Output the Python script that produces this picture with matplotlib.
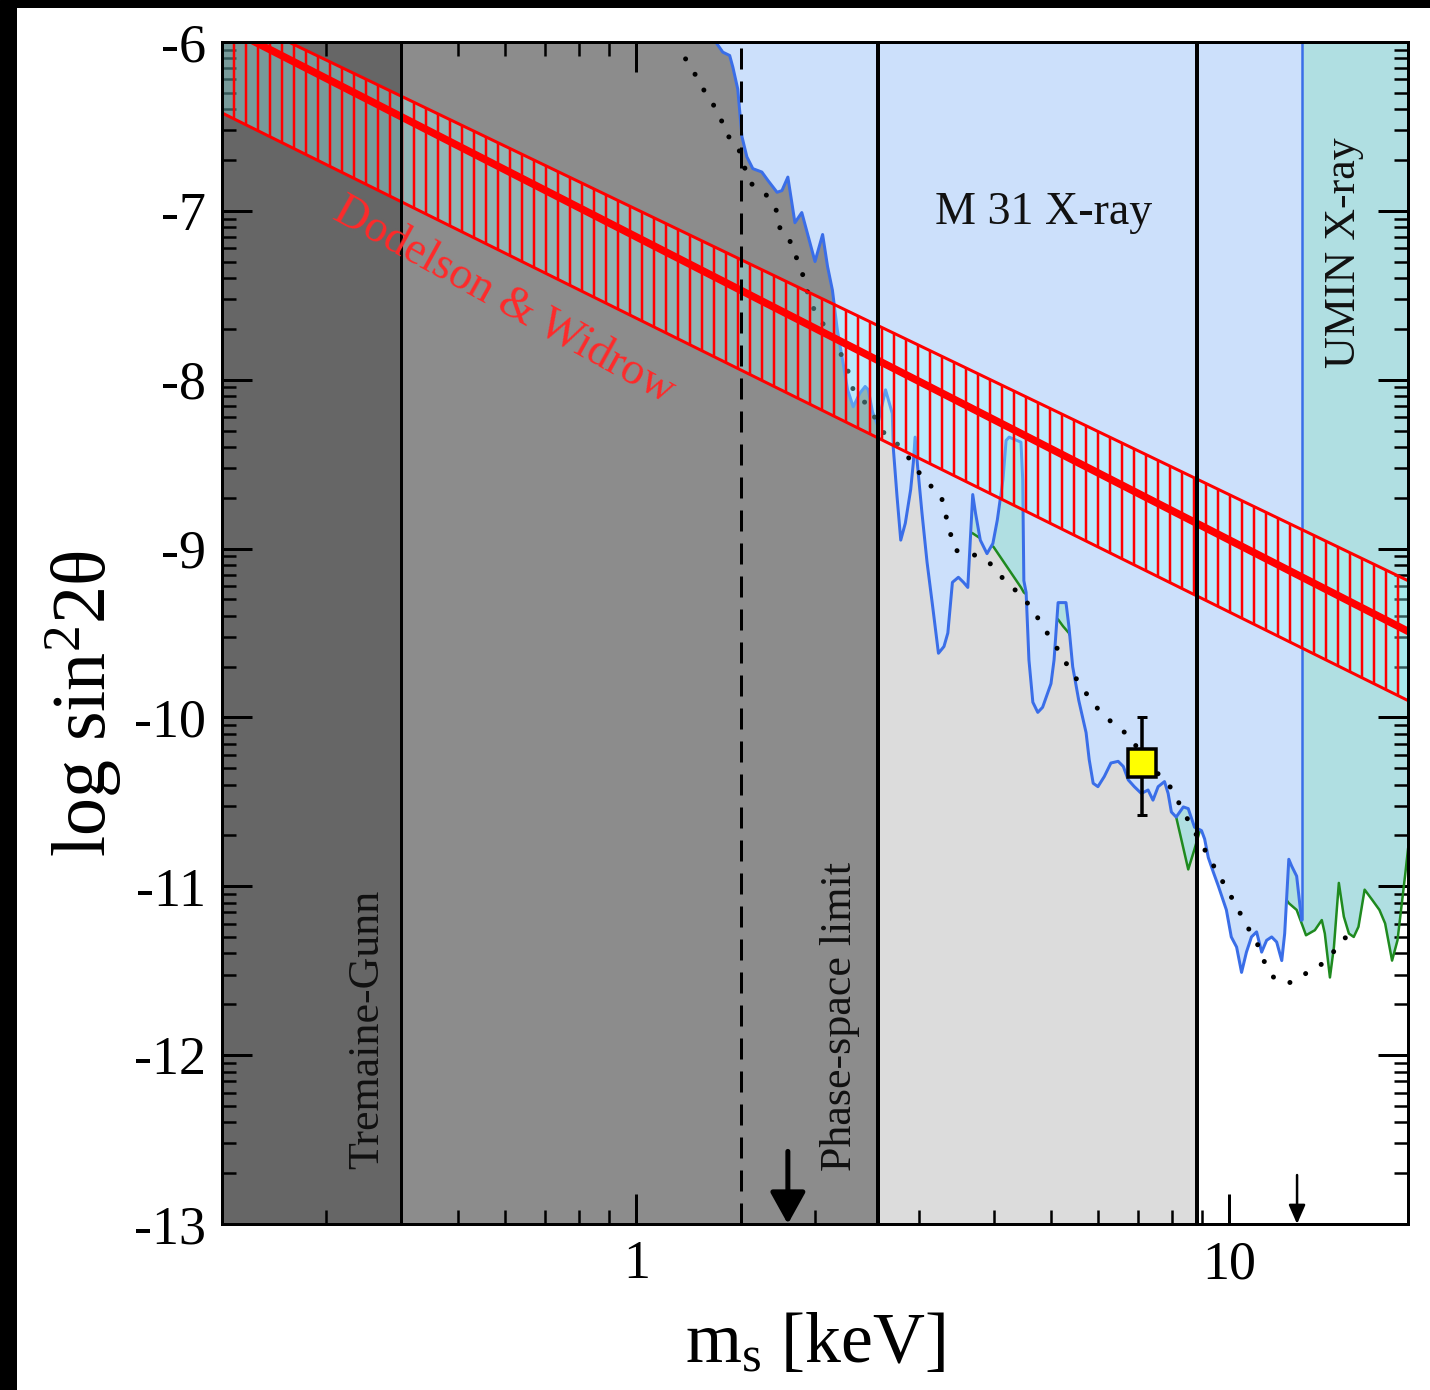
import numpy as np
import matplotlib
matplotlib.use("Agg")
import matplotlib.pyplot as plt
from matplotlib.ticker import FuncFormatter, LogLocator, NullFormatter, FixedLocator
from matplotlib.patches import Rectangle

# m_s in keV, values as log10(sin^2 2theta)
blue_m = [1.36, 1.398, 1.436, 1.454, 1.482, 1.506, 1.535, 1.571, 1.627, 1.666, 1.726, 1.759,
          1.80, 1.85, 1.90, 2.00, 2.06, 2.10, 2.14, 2.18, 2.22, 2.27, 2.32, 2.38, 2.43, 2.46,
          2.50, 2.55, 2.63, 2.70, 2.71, 2.75, 2.79, 2.84, 2.90, 2.93, 2.95, 2.98, 3.03, 3.09,
          3.16, 3.23, 3.30, 3.35, 3.41, 3.49, 3.56, 3.62, 3.69, 3.73, 3.80, 3.90, 3.99, 4.06,
          4.15, 4.20, 4.25, 4.45, 4.48, 4.50, 4.54, 4.59, 4.66, 4.75, 4.84, 5.00, 5.06, 5.14,
          5.24, 5.30, 5.36, 5.44, 5.57, 5.73, 5.80, 5.89, 6.00, 6.15, 6.31, 6.49, 6.62, 6.75,
          6.91, 7.10, 7.29, 7.43, 7.58, 7.77, 7.88, 7.98, 8.13, 8.36, 8.52, 8.73, 8.97, 9.08,
          9.21, 9.40, 9.58, 9.88, 10.07, 10.28, 10.48, 10.68, 10.89, 11.11, 11.33, 11.55, 11.78,
          12.01, 12.25, 12.39, 12.59, 12.73, 12.98, 13.23]
blue_y = [-6.0, -6.06, -6.08, -6.15, -6.28, -6.56, -6.68, -6.75, -6.77, -6.82, -6.89, -6.88,
          -6.80, -7.07, -7.01, -7.30, -7.14, -7.33, -7.47, -7.70, -7.86, -8.06, -8.16, -8.08,
          -8.04, -8.06, -8.19, -8.27, -8.06, -8.20, -8.40, -8.69, -8.95, -8.85, -8.65, -8.49,
          -8.34, -8.52, -8.79, -9.08, -9.35, -9.62, -9.58, -9.50, -9.20, -9.17, -9.20, -9.23,
          -8.68, -8.79, -8.95, -9.03, -8.97, -8.83, -8.59, -8.36, -8.34, -8.37, -8.59, -9.19,
          -9.26, -9.66, -9.91, -9.97, -9.94, -9.80, -9.66, -9.32, -9.32, -9.32, -9.46, -9.70,
          -9.90, -10.09, -10.25, -10.39, -10.41, -10.35, -10.27, -10.26, -10.29, -10.37, -10.41,
          -10.45, -10.43, -10.49, -10.41, -10.38, -10.45, -10.56, -10.59, -10.53, -10.54, -10.65,
          -10.67, -10.72, -10.83, -10.92, -11.00, -11.14, -11.30, -11.36, -11.51, -11.39, -11.30,
          -11.27, -11.39, -11.32, -11.30, -11.33, -11.44, -11.28, -10.84, -10.88, -10.94, -11.20]

green_m = [3.69, 4.00, 4.45, 4.50, 4.80, 5.14, 5.24, 5.36, 6.00, 7.00, 8.00, 8.13, 8.52, 8.73,
           9.00, 9.50, 10.5, 11.5, 12.3, 12.59, 12.98, 13.3, 13.46, 13.93, 14.31, 14.48, 14.77,
           15.0, 15.29, 15.59, 15.9, 16.2, 16.5, 16.9, 17.4, 17.9, 18.3, 18.8, 19.2, 19.8, 20.0]
green_y = [-8.91, -8.99, -9.23, -9.26, -9.33, -9.42, -9.46, -9.50, -9.85, -10.15, -10.40,
           -10.59, -10.90, -10.78, -10.62, -10.75, -10.95, -11.00, -11.05, -11.10, -11.14,
           -11.24, -11.29, -11.26, -11.20, -11.28, -11.54, -11.36, -10.98, -11.18, -11.28,
           -11.30, -11.24, -11.02, -11.08, -11.14, -11.22, -11.44, -11.32, -10.92, -10.78]

dot_m = [1.21, 1.27, 1.32, 1.38, 1.41, 1.48, 1.55, 1.66, 1.73, 1.75, 1.84, 1.87, 1.93, 1.95,
         2.04, 2.14, 2.27, 2.32, 2.45, 2.63, 2.80, 2.95, 3.09, 3.26, 3.37, 3.45, 3.73, 3.95,
         4.18, 4.43, 4.66, 4.84, 5.06, 5.26, 5.49, 5.74, 6.03, 6.38, 6.78, 7.30, 7.88, 8.17,
         8.46, 9.14, 9.51, 9.88, 10.28, 10.68, 11.11, 11.46, 11.92, 12.64, 13.55, 14.48,
         15.29, 16.08]
dot_y = [-6.10, -6.22, -6.33, -6.42, -6.54, -6.61, -6.83, -6.91, -7.01, -7.13, -7.20, -7.31,
         -7.42, -7.52, -7.65, -7.73, -7.94, -8.06, -8.15, -8.33, -8.40, -8.52, -8.61, -8.68,
         -8.89, -9.01, -9.04, -9.09, -9.19, -9.27, -9.36, -9.46, -9.56, -9.66, -9.76, -9.86,
         -9.96, -10.04, -10.11, -10.28, -10.39, -10.49, -10.59, -10.80, -10.91, -11.01,
         -11.12, -11.23, -11.33, -11.45, -11.55, -11.57, -11.51, -11.45, -11.35, -11.26]

# Dodelson & Widrow band
dw_m = [0.2, 20.0]
dw_mid = [-5.90, -9.49]
dw_upper = [-5.81, -9.19]
dw_lower = [-6.42, -9.90]

# vertical limits (keV)
tg_limit = 0.4
dashed_limit = 1.5
phase_limit = 2.55
m31_edge = 8.8
arrow_big = 1.8
arrow_small = 13.0

# yellow point with error bar
pt_m = 7.13
pt_y = -10.27
pt_lo = -10.58
pt_hi = -10.00

plt.rcParams["font.family"] = ["Liberation Serif", "DejaVu Serif"]
plt.rcParams["mathtext.fontset"] = "custom"
plt.rcParams["mathtext.rm"] = "Liberation Serif"
plt.rcParams["hatch.color"] = "red"
plt.rcParams["hatch.linewidth"] = 2.5

fig = plt.figure(figsize=(1430 / 72, 1390 / 72), dpi=72)
ax = fig.add_axes([222 / 1430, 1 - 1224 / 1390, 1186 / 1430, 1182 / 1390])

top = 1e-6
bot = 1e-13

# grey background bands
ax.axvspan(0.2, tg_limit, color="#666666", lw=0, zorder=0)
ax.axvspan(tg_limit, phase_limit, color="#8c8c8c", lw=0, zorder=0)
ax.axvspan(phase_limit, m31_edge, color="#dcdcdc", lw=0, zorder=0)

bm = np.array(blue_m)
by = 10.0 ** np.array(blue_y)
gm = np.array(green_m)
gy = 10.0 ** np.array(green_y)

# UMIN excluded region (above green curve)
ax.fill_between(gm, gy, top, color="#b0dfe2", lw=0, zorder=1)
ax.plot(gm, gy, color="#1f8a1f", lw=2.5, zorder=2)

# M31 excluded region (above blue curve)
ax.fill_between(bm, by, top, color="#cce0fb", lw=0, zorder=3)
ax.plot(bm, by, color="#3a6ee8", lw=3, zorder=4)
ax.vlines(bm[-1], by[-1], top, color="#3a6ee8", lw=2.5, zorder=4)

ax.plot(dot_m, 10.0 ** np.array(dot_y), color="black", lw=5,
        linestyle=(0, (0.01, 3.6)), dash_capstyle="round", zorder=5)

# Dodelson & Widrow band
dm = np.logspace(np.log10(dw_m[0]), np.log10(dw_m[1]), 50)
up = 10.0 ** np.interp(np.log10(dm), np.log10(dw_m), dw_upper)
lo = 10.0 ** np.interp(np.log10(dm), np.log10(dw_m), dw_lower)
ax.fill_between(dm, lo, up, facecolor=(0.6, 1.0, 1.0, 0.35), edgecolor="red",
                hatch="|", lw=0, zorder=6)
ax.plot(dw_m, 10.0 ** np.array(dw_upper), color="red", lw=3, zorder=6)
ax.plot(dw_m, 10.0 ** np.array(dw_lower), color="red", lw=3, zorder=6)
ax.plot(dw_m, 10.0 ** np.array(dw_mid), color="red", lw=7.5, zorder=6)

# vertical limit lines
ax.axvline(tg_limit, color="black", lw=3, zorder=7)
ax.axvline(phase_limit, color="black", lw=4, zorder=7)
ax.axvline(m31_edge, color="black", lw=4, zorder=7)
ax.axvline(dashed_limit, color="black", lw=3, linestyle=(0, (7, 4)), zorder=7)

# arrows
ax.annotate("", xy=(arrow_big, bot), xytext=(arrow_big, 10 ** -12.57),
            arrowprops=dict(arrowstyle="-|>,head_length=0.9,head_width=0.5",
                            color="black", lw=5, mutation_scale=30, shrinkA=0, shrinkB=0),
            zorder=8)
ax.annotate("", xy=(arrow_small, bot), xytext=(arrow_small, 10 ** -12.71),
            arrowprops=dict(arrowstyle="-|>,head_length=0.8,head_width=0.35",
                            color="black", lw=2.5, mutation_scale=20, shrinkA=0, shrinkB=0),
            zorder=8)

# data point
ax.errorbar([pt_m], [10 ** pt_y],
            yerr=[[10 ** pt_y - 10 ** pt_lo], [10 ** pt_hi - 10 ** pt_y]],
            fmt="none", ecolor="black", elinewidth=3.5, capsize=5, capthick=3, zorder=9)
ax.plot([pt_m], [10 ** pt_y], marker="s", markersize=28, markerfacecolor="#ffff00",
        markeredgecolor="black", markeredgewidth=3.5, zorder=10)

# labels inside plot
ax.text(0.351, 10 ** -11.85, "Tremaine-Gunn", rotation=90, ha="center", va="center",
        fontsize=44, color="#111111", zorder=11)
ax.text(2.206, 10 ** -11.77, "Phase-space limit", rotation=90, ha="center", va="center",
        fontsize=44, color="#111111", zorder=11)
ax.text(4.86, 10 ** -7.01, "M 31 X-ray", ha="center", va="center", fontsize=46,
        color="#111111", zorder=11)
ax.text(15.6, 10 ** -7.25, "UMIN X-ray", rotation=90, ha="center", va="center",
        fontsize=44, color="#111111", zorder=11)
ax.text(0.598, 10 ** -7.53, "Dodelson & Widrow", rotation=-29, ha="center", va="center",
        rotation_mode="anchor", fontsize=46, color="#ff2a2a", zorder=11)

ax.set_xscale("log")
ax.set_yscale("log")
ax.set_xlim(0.2, 20)
ax.set_ylim(bot, top)

ax.xaxis.set_major_locator(FixedLocator([1, 10]))
ax.xaxis.set_major_formatter(FuncFormatter(lambda v, p: "%g" % v))
ax.xaxis.set_minor_locator(LogLocator(base=10, subs=np.arange(2, 10), numticks=20))
ax.xaxis.set_minor_formatter(NullFormatter())
ax.yaxis.set_major_locator(FixedLocator(10.0 ** np.arange(-13, -5)))
ax.yaxis.set_major_formatter(FuncFormatter(lambda v, p: "%d" % round(np.log10(v))))
ax.yaxis.set_minor_locator(LogLocator(base=10, subs=np.arange(2, 10), numticks=30))
ax.yaxis.set_minor_formatter(NullFormatter())

ax.tick_params(which="major", direction="in", length=30, width=3, top=True, right=True,
               labelsize=54, pad=16)
ax.tick_params(which="minor", direction="in", length=14, width=2.5, top=True, right=True)
for s in ax.spines.values():
    s.set_linewidth(3)
    s.set_zorder(12)

ax.set_xlabel("m$\\mathregular{_s}$ [keV]", fontsize=72)
ax.set_ylabel("log sin$\\mathregular{^2}$2θ", fontsize=76)
ax.xaxis.set_label_coords(0.5, -0.075)
ax.yaxis.set_label_coords(-0.083, 0.44)

# black frame strips at the left and top of the picture
fig.patches.append(Rectangle((0, 0), 16 / 1430, 1, transform=fig.transFigure,
                             color="black", zorder=20))
fig.patches.append(Rectangle((0, 1 - 7 / 1390), 1, 7 / 1390, transform=fig.transFigure,
                             color="black", zorder=20))

fig.savefig("out.png", dpi=72)
